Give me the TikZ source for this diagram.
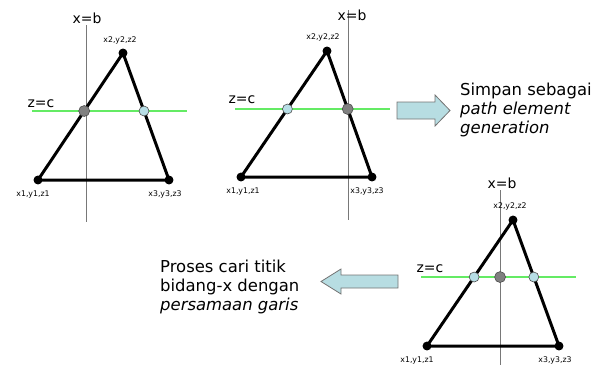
\documentclass[tikz,border=0pt]{standalone}
\usepackage{fontspec}
\setmainfont{DejaVu Sans}
\usetikzlibrary{calc}
\definecolor{planegreen}{RGB}{100,235,100}
\definecolor{axisgray}{RGB}{120,120,120}
\definecolor{hitblue}{RGB}{183,222,230}
\definecolor{hitgray}{RGB}{128,128,128}
\definecolor{arrowblue}{RGB}{183,221,226}

\begin{document}
\begin{tikzpicture}[x=1bp,y=-1bp,
  edge/.style={line width=3pt,line join=round},
  corner/.style={circle,fill=black,minimum size=9pt,inner sep=0pt},
  axisline/.style={draw=axisgray,line width=0.9pt},
  planeline/.style={draw=planegreen,line width=2bp},
  hit/.style={circle,draw=black!70,fill=hitblue,line width=0.6pt,minimum size=10pt,inner sep=0pt},
  hitx/.style={circle,draw=black!70,fill=hitgray,line width=0.6pt,minimum size=11pt,inner sep=0pt},
  vlabel/.style={font=\fontsize{7.8}{8}\selectfont,anchor=base,inner sep=0pt},
  eqlabel/.style={font=\fontsize{14}{16}\selectfont,anchor=base,inner sep=0pt},
  note/.style={font=\fontsize{16.5}{19}\selectfont,anchor=base west,inner sep=0pt},
  blockarrow/.style={draw=black!55,fill=arrowblue,line width=0.8pt,line join=miter}]
\useasboundingbox (0,0) rectangle (595,365);

% first triangle: x=b hits the left edge
\coordinate (A1) at (38,180);
\coordinate (B1) at (123,53);
\coordinate (C1) at (169,180);
\coordinate (xb1top) at (86,25);
\coordinate (xb1bot) at (86,222);
\coordinate (zc1l) at (32,111);
\coordinate (zc1r) at (187,111);

% second triangle: x=b hits the right edge
\coordinate (A2) at (241,177);
\coordinate (B2) at (327,51);
\coordinate (C2) at (372,177);
\coordinate (xb2top) at (348,10);
\coordinate (xb2bot) at (348,220);
\coordinate (zc2l) at (235,109);
\coordinate (zc2r) at (390,109);

% third triangle: x=b between both edges
\coordinate (A3) at (427,346);
\coordinate (B3) at (513,220);
\coordinate (C3) at (559,346);
\coordinate (xb3top) at (500,190);
\coordinate (xb3bot) at (500,365);
\coordinate (zc3l) at (421,277);
\coordinate (zc3r) at (576,277);

\path[planeline] (zc1l) -- (zc1r);
\path[planeline] (zc2l) -- (zc2r);
\path[planeline] (zc3l) -- (zc3r);
\path[axisline] (xb1top) -- (xb1bot);
\path[axisline] (xb2top) -- (xb2bot);
\path[axisline] (xb3top) -- (xb3bot);

\draw[edge] (A1) -- (B1) -- (C1) -- cycle;
\node[corner] (a1) at (A1) {};
\node[corner] (b1) at (B1) {};
\node[corner] (c1) at (C1) {};
\node[hitx] (p1) at (intersection of A1--B1 and zc1l--zc1r) {};
\node[hit] (q1) at (intersection of B1--C1 and zc1l--zc1r) {};
\node[eqlabel] (xb1) at (87,23) {x=b};
\node[eqlabel] (zc1) at (41,107) {z=c};
\node[vlabel] (lb1) at (120,42) {x2,y2,z2};
\node[vlabel] (la1) at (33,196) {x1,y1,z1};
\node[vlabel] (lc1) at (165,196) {x3,y3,z3};

\draw[edge] (A2) -- (B2) -- (C2) -- cycle;
\node[corner] (a2) at (A2) {};
\node[corner] (b2) at (B2) {};
\node[corner] (c2) at (C2) {};
\node[hit] (p2) at (intersection of A2--B2 and zc2l--zc2r) {};
\node[hitx] (q2) at (intersection of B2--C2 and zc2l--zc2r) {};
\node[eqlabel] (xb2) at (352,20) {x=b};
\node[eqlabel] (zc2) at (242,103) {z=c};
\node[vlabel] (lb2) at (323,39) {x2,y2,z2};
\node[vlabel] (la2) at (243,193) {x1,y1,z1};
\node[vlabel] (lc2) at (367,193) {x3,y3,z3};

\draw[edge] (A3) -- (B3) -- (C3) -- cycle;
\node[corner] (a3) at (A3) {};
\node[corner] (b3) at (B3) {};
\node[corner] (c3) at (C3) {};
\node[hit] (p3) at (intersection of A3--B3 and zc3l--zc3r) {};
\node[hitx] (m3) at (intersection of xb3top--xb3bot and zc3l--zc3r) {};
\node[hit] (q3) at (intersection of B3--C3 and zc3l--zc3r) {};
\node[eqlabel] (xb3) at (502,188) {x=b};
\node[eqlabel] (zc3) at (430,272) {z=c};
\node[vlabel] (lb3) at (510,208) {x2,y2,z2};
\node[vlabel] (la3) at (417,362) {x1,y1,z1};
\node[vlabel] (lc3) at (555,362) {x3,y3,z3};

% block arrows
\draw[blockarrow] (397,102) -- (435,102) -- (435,95) -- (450,110.5) -- (435,126) -- (435,119) -- (397,119) -- cycle;
\draw[blockarrow] (398,275) -- (341,275) -- (341,269) -- (321,281.5) -- (341,294) -- (341,288) -- (398,288) -- cycle;

% notes
\node[note] (save1) at (460,95) {Simpan sebagai};
\node[note] (save2) at (460,114) {\itshape path element};
\node[note] (save3) at (460,133) {\itshape generation};
\node[note] (find1) at (160,272) {Proses cari titik};
\node[note] (find2) at (160,291) {bidang-x dengan};
\node[note] (find3) at (160,310) {\itshape persamaan garis};
\end{tikzpicture}
\end{document}
